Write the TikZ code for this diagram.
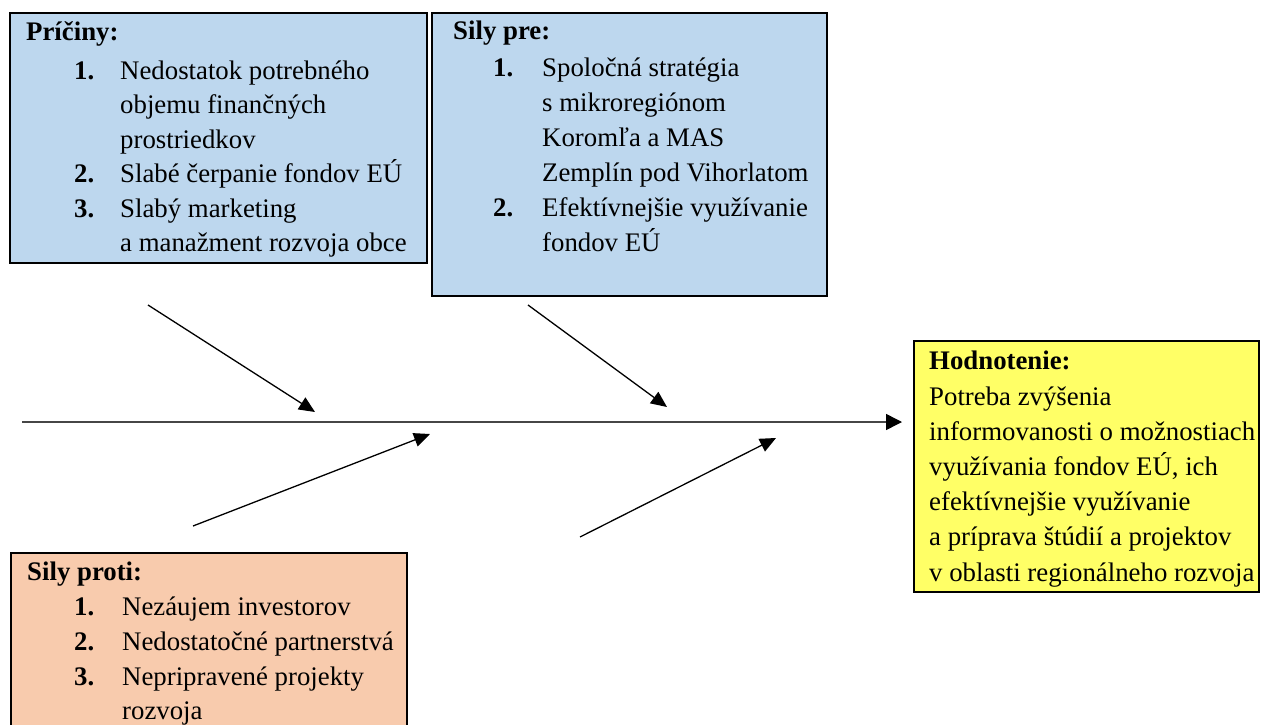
\documentclass[tikz,border=0pt]{standalone}
\usepackage{fontspec}
\setmainfont{Liberation Serif}
\usetikzlibrary{arrows.meta}
\definecolor{boxblue}{RGB}{189,215,238}
\definecolor{boxpeach}{RGB}{248,203,173}
\definecolor{boxyellow}{RGB}{255,255,102}
\definecolor{spinegray}{RGB}{70,70,70}
\newcommand\itemnum[2][46pt]{\makebox[#1][l]{\textbf{#2}}}
\begin{document}
\begin{tikzpicture}[x=1pt,y=-1pt,
  panel/.style={draw=black, line width=2pt, inner sep=0pt, rectangle},
  txt/.style={anchor=base west, inner sep=0pt, font={\fontsize{26.8}{32}\selectfont}},
  hd/.style={anchor=base west, inner sep=0pt, font={\fontsize{26.8}{32}\selectfont\bfseries}},
  arr/.style={-{Triangle[length=16pt,width=14pt]}, line width=1.3pt, draw=black}]
\clip (0,0) rectangle (1263,725);
\fill[white] (0,0) rectangle (1263,725);

% boxes
\node[panel, fill=boxblue, minimum width=417pt, minimum height=250pt] (pricBox) at (218.5,138) {};
\node[panel, fill=boxblue, minimum width=395pt, minimum height=283pt] (preBox) at (629.5,154.5) {};
\node[panel, fill=boxpeach, minimum width=396pt, minimum height=190pt] (protiBox) at (209,648) {};
\node[panel, fill=boxyellow, minimum width=345pt, minimum height=251pt] (hodBox) at (1086.5,466.5) {};

% Príčiny
\node[hd] (pricH) at (26,40.5) {Príčiny:};
\node[txt] (pric1) at (74,79.5) {\itemnum{1.}Nedostatok potrebného};
\node[txt] (pric1b) at (120,113.9) {objemu finančných};
\node[txt] (pric1c) at (120,148.3) {prostriedkov};
\node[txt] (pric2) at (74,182.7) {\itemnum{2.}Slabé čerpanie fondov EÚ};
\node[txt] (pric3) at (74,217.1) {\itemnum{3.}Slabý marketing};
\node[txt] (pric3b) at (120,251.5) {a manažment rozvoja obce};

% Sily pre
\node[hd] (preH) at (453,40) {Sily pre:};
\node[txt] (pre1) at (493,76) {\itemnum[49pt]{1.}Spoločná stratégia};
\node[txt] (pre1b) at (542,111) {s mikroregiónom};
\node[txt] (pre1c) at (542,146) {Koromľa a MAS};
\node[txt] (pre1d) at (542,181) {Zemplín pod Vihorlatom};
\node[txt] (pre2) at (493,216) {\itemnum[49pt]{2.}Efektívnejšie využívanie};
\node[txt] (pre2b) at (542,251) {fondov EÚ};

% Sily proti
\node[hd] (protiH) at (27,580) {Sily proti:};
\node[txt] (proti1) at (74,615) {\itemnum[48pt]{1.}Nezáujem investorov};
\node[txt] (proti2) at (74,650) {\itemnum[48pt]{2.}Nedostatočné partnerstvá};
\node[txt] (proti3) at (74,685) {\itemnum[48pt]{3.}Nepripravené projekty};
\node[txt] (proti3b) at (122,719) {rozvoja};

% Hodnotenie
\node[hd] (hodH) at (929,369) {Hodnotenie:};
\node[txt] (hod1) at (929,405) {Potreba zvýšenia};
\node[txt] (hod2) at (929,440.2) {informovanosti o možnostiach};
\node[txt] (hod3) at (929,475.4) {využívania fondov EÚ, ich};
\node[txt] (hod4) at (929,510.6) {efektívnejšie využívanie};
\node[txt] (hod5) at (929,545.8) {a príprava štúdií a projektov};
\node[txt] (hod6) at (929,581) {v oblasti regionálneho rozvoja};

% spine
\coordinate (spineL) at (22,422);
\draw[-{Triangle[length=16pt,width=16pt,color=black]}, line width=1.5pt, draw=spinegray, shorten >=11pt]
  (spineL) -- (spineL -| hodBox.west);

% diagonal arrows
\coordinate (a1s) at (148,305); \coordinate (a1e) at (315,412);
\coordinate (a2s) at (528,305); \coordinate (a2e) at (667,407);
\coordinate (a3s) at (193,526); \coordinate (a3e) at (430,434);
\coordinate (a4s) at (580,537); \coordinate (a4e) at (776,438);
\draw[arr] (a1s) -- (a1e);
\draw[arr] (a2s) -- (a2e);
\draw[arr] (a3s) -- (a3e);
\draw[arr] (a4s) -- (a4e);
\end{tikzpicture}
\end{document}
